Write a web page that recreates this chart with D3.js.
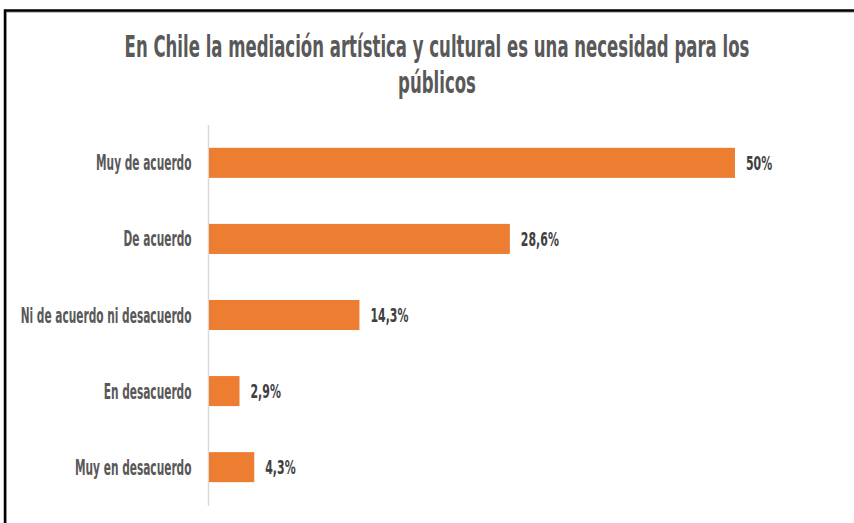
<!DOCTYPE html>
<html>
<head>
<meta charset="utf-8">
<script src="https://cdn.jsdelivr.net/npm/d3@7"></script>
<style>
  html, body { margin: 0; padding: 0; background: #fff; }
  svg { display: block; }
  text { font-family: "DejaVu Sans Condensed", "Liberation Sans Narrow", "Roboto Condensed", "Liberation Sans", sans-serif; font-weight: bold; }
</style>
</head>
<body>
<svg id="chart" width="854" height="523"></svg>
<script>
const titleLines = ["En Chile  la mediación  artística  y cultural  es una necesidad  para los", "públicos"];
const categories = ["Muy de acuerdo", "De acuerdo", "Ni de acuerdo ni desacuerdo", "En desacuerdo", "Muy en desacuerdo"];
const values = [50, 28.6, 14.3, 2.9, 4.3];
const valueLabels = ["50%", "28,6%", "14,3%", "2,9%", "4,3%"];

const svg = d3.select("#chart");

// frame
svg.append("rect").attr("x", 6).attr("y", 12).attr("width", 900).attr("height", 600)
  .attr("fill", "none").attr("stroke", "#bfbfbf").attr("stroke-width", 2);
svg.append("rect").attr("x", 5).attr("y", 10.5).attr("width", 900).attr("height", 600)
  .attr("fill", "none").attr("stroke", "#000").attr("stroke-width", 2.5);

const x = d3.scaleLinear().domain([0, 50]).range([209, 735]);
const y = d3.scaleBand().domain(categories).range([125, 505]).paddingInner(0.605).paddingOuter(0.3);

// horizontal squeeze via transform (text drawn at origin of its own group)
function placeSqueezed(sel, px, py, k) {
  sel.attr("x", 0).attr("y", 0)
     .attr("transform", (d, i) => `translate(${px(d, i)},${py(d, i)}) scale(${k},1)`);
}

// title
const tl = svg.append("g").selectAll("text").data(titleLines).join("text")
  .attr("text-anchor", "middle")
  .attr("fill", "#595959")
  .attr("font-size", 30)
  .text(d => d);
const kt = 625 / tl.nodes()[0].getComputedTextLength();
placeSqueezed(tl, () => 437, (d, i) => 57 + i * 36, kt);

// category axis
const yAxis = d3.axisLeft(y).tickSize(0).tickPadding(17);
const ag = svg.append("g").attr("transform", "translate(208.5,0)").call(yAxis);
ag.select(".domain").attr("stroke", "#d9d9d9").attr("stroke-width", 1.5)
  .attr("d", "M0,125V506");
ag.attr("font-family", null).attr("font-size", null);
const cl = ag.selectAll(".tick text")
  .attr("fill", "#595959")
  .attr("font-size", 21)
  .attr("dy", "0.36em");
const kc = 171 / cl.filter(d => d === categories[2]).node().getComputedTextLength();
placeSqueezed(cl, () => -17, () => 0, kc);

// bars
svg.append("g").selectAll("rect").data(categories).join("rect")
  .attr("x", x(0))
  .attr("y", d => y(d))
  .attr("width", (d, i) => x(values[i]) - x(0))
  .attr("height", y.bandwidth())
  .attr("fill", "#ED7D31");

// value labels
const vl = svg.append("g").selectAll("text").data(categories).join("text")
  .attr("dy", "0.36em")
  .attr("fill", "#404040")
  .attr("font-size", 20)
  .text((d, i) => valueLabels[i]);
const kv = 38 / vl.filter((d, i) => i === 1).node().getComputedTextLength();
placeSqueezed(vl, (d, i) => x(values[i]) + 11, d => y(d) + y.bandwidth() / 2, kv);
</script>
</body>
</html>
